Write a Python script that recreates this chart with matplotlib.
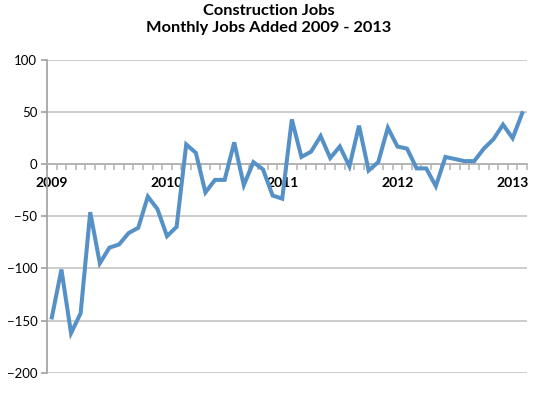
import matplotlib.pyplot as plt
import numpy as np

# monthly jobs added (thousands), Jan 2009 - Feb 2013
jobs = [-147, -101, -162, -143, -46, -95, -80, -77, -66, -61, -31, -43,
        -69, -60, 19, 11, -27, -15, -15, 21, -20, 2, -5, -30,
        -33, 43, 7, 12, 27, 6, 17, -2, 37, -6, 2, 35,
        17, 15, -4, -4, -21, 7, 5, 3, 3, 15, 24, 38,
        25, 49]
year_labels = ["2009", "2010", "2011", "2012", "2013"]
y_ticks = [-200, -150, -100, -50, 0, 50, 100]

plt.rcParams['font.family'] = ['Lato', 'DejaVu Sans']

fig = plt.figure(figsize=(5.38, 3.94), dpi=100)
ax = fig.add_axes([0.0874, 0.054, 0.8922, 0.7937])

x = np.arange(len(jobs))
ax.plot(x, jobs, color="#5591c6", linewidth=2.9, solid_joinstyle="miter", zorder=3)

ax.set_xlim(-0.5, len(jobs) - 0.5)
ax.set_ylim(-200, 100)
ax.set_yticks(y_ticks)
ax.yaxis.grid(True, color="#c4c4c4", linewidth=1.2)
ax.set_axisbelow(True)

# x axis crosses at zero, ticks between categories
ax.spines['bottom'].set_position(('data', 0))
ax.spines['bottom'].set_color("#b0b0b0")
ax.spines['bottom'].set_linewidth(1.2)
ax.spines['left'].set_color("#a0a0a0")
ax.spines['left'].set_linewidth(1.2)
ax.spines['top'].set_visible(False)
ax.spines['right'].set_visible(False)

ax.set_xticks(np.arange(0, len(jobs), 12))
ax.set_xticklabels(year_labels, fontweight="bold", fontsize=10)
ax.set_xticks(np.arange(-0.5, len(jobs), 1), minor=True)
ax.tick_params(axis='x', which='major', length=0, pad=9)
ax.tick_params(axis='x', which='minor', length=4, width=1.2, color="#b8b8b8", direction="out")
ax.tick_params(axis='y', length=4, width=1.2, color="#a0a0a0", labelsize=9.5, pad=3)

fig.suptitle("Construction Jobs\nMonthly Jobs Added 2009 - 2013", fontsize=11.8,
             fontweight="bold", y=0.99, linespacing=1.3)

plt.savefig("out.png", dpi=100)
